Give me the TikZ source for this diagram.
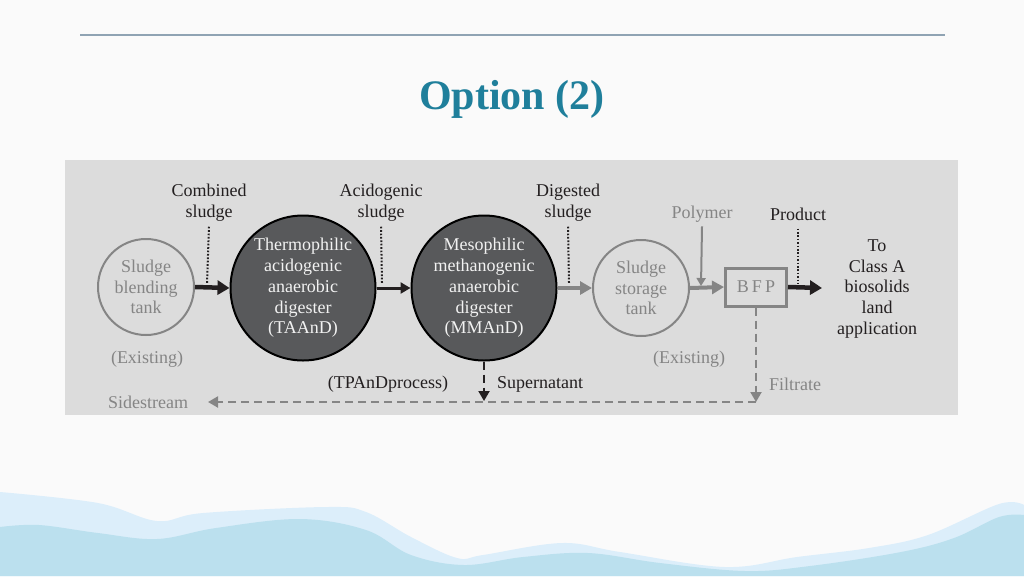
\documentclass[tikz,border=0pt]{standalone}
\usepackage{fontspec}
\setmainfont{Liberation Serif}
\usepackage{tikz}
\usetikzlibrary{arrows.meta,positioning}
\definecolor{slidebg}{HTML}{FAFAFA}
\definecolor{panelbg}{HTML}{DCDCDC}
\definecolor{titleblue}{HTML}{1F7F9B}
\definecolor{ruleblue}{HTML}{8FA3B3}
\definecolor{darkfill}{HTML}{58595B}
\definecolor{inkdark}{HTML}{231F20}
\definecolor{inkgray}{HTML}{858585}
\definecolor{wavelight}{HTML}{DCEEFA}
\definecolor{wavedark}{HTML}{BBE0EE}

\begin{document}
\begin{tikzpicture}[x=1pt,y=-1pt,
		txt/.style={font=\fontsize{18}{20.7}\selectfont, align=center, inner sep=0pt, text=inkdark},
		graytxt/.style={txt, text=inkgray},
		tank/.style={graytxt, circle, draw=inkgray, line width=2pt, minimum size=96pt, inner sep=0pt},
		digester/.style={txt, text=white!95!black, circle, draw=black, fill=darkfill, line width=2pt, minimum size=145pt, inner sep=0pt},
		blackarrow/.style={line width=4.5pt, color=inkdark, -{Triangle[length=12pt,width=14pt]}},
		midarrow/.style={line width=3pt, color=inkdark, -{Triangle[length=10pt,width=11pt]}},
		grayarrow/.style={line width=4pt, color=inkgray, -{Triangle[length=12pt,width=13pt]}},
		polyarrow/.style={line width=2pt, color=inkgray, -{Triangle[length=8pt,width=9pt]}},
		dotline/.style={line width=2pt, color=inkdark, dash pattern=on 1.7pt off 1.7pt},
		graydash/.style={line width=2pt, color=inkgray, dash pattern=on 8pt off 5pt},
		blackdash/.style={line width=2pt, color=inkdark, dash pattern=on 8pt off 5pt}]
	% slide background
	\fill[slidebg] (0,0) rectangle (1024,576);
	\fill[wavelight] plot[smooth, tension=0.6] coordinates {(0,492) (98,503) (157,521) (203,513) (327,507) (366,512) (411,537) (457,558) (483,555) (562,543) (620,552) (725,567) (797,557) (869,548) (928,535) (999,504) (1024,505)} -- (1024,576) -- (0,576) -- cycle;
	\fill[wavedark] plot[smooth, tension=0.6] coordinates {(0,527) (39,525) (98,533) (157,539) (216,528) (300,519) (366,530) (411,555) (464,565) (523,557) (588,553) (660,563) (745,571) (810,566) (901,552) (954,538) (999,517) (1024,515)} -- (1024,576) -- (0,576) -- cycle;
	\draw[ruleblue, line width=1.5pt] (80,35) -- (945,35);
	\node[font=\fontsize{42}{48}\bfseries, text=titleblue] (title) at (512,99) {Option (2)};

	% diagram panel
	\fill[panelbg] (65,160) rectangle (958,415);

	\node[tank] (blend) at (146,287) {Sludge\\blending\\tank};
	\node[digester] (taand) at (303,288) {Thermophilic\\acidogenic\\anaerobic\\digester\\(TAAnD)};
	\node[digester] (mmand) at (484,288) {Mesophilic\\methanogenic\\anaerobic\\digester\\(MMAnD)};
	\node[tank] (store) at (641,288) {Sludge\\storage\\tank};
	\node[graytxt, rectangle, draw=inkgray, line width=3pt, minimum width=61pt, minimum height=38pt] (bfp) at (756,287) {B\,F\,P};
	\node[txt] (dest) at (877,289) {To\\Class A\\biosolids\\land\\application};

	\node[txt] (comb) at (209,203) {Combined\\sludge};
	\node[txt] (acid) at (381,203) {Acidogenic\\sludge};
	\node[txt] (digs) at (568,203) {Digested\\sludge};
	\node[graytxt] (poly) at (702,214) {Polymer};
	\node[txt] (prod) at (798,214) {Product};

	\node[graytxt] (exist1) at (147,359) {(Existing)};
	\node[graytxt] (exist2) at (689,359) {(Existing)};
	\node[txt] (tpand) at (388,384) {(TPAnDprocess)};
	\node[txt, anchor=west] (super) at (497,384) {Supernatant};
	\node[graytxt, anchor=west] (filt) at (769,384) {Filtrate};
	\node[graytxt] (side) at (148,402) {Sidestream};

	\coordinate (combend) at (207,283);
	\coordinate (acidend) at (382,283);
	\coordinate (digsend) at (569,283);
	\coordinate (polyend) at (701,286);
	\coordinate (prodend) at (798,283);
	\coordinate (desttip) at (822,288);
	\coordinate (superend) at (484,401);
	\coordinate (filtcorner) at (756,402);
	\coordinate (sidetip) at (208,402);

	% main flow
	\draw[blackarrow] (blend.east) -- (taand.west);
	\draw[midarrow] (taand.east) -- (mmand.west);
	\draw[grayarrow] (mmand.east) -- (store.west);
	\draw[grayarrow] (store.east) -- (bfp.west);
	\draw[blackarrow] (bfp.east) -- (desttip);
	\draw[polyarrow] ([yshift=-4pt]poly.south) -- (polyend);

	% stream labels
	\draw[dotline] ([yshift=-5pt]comb.south) -- (combend);
	\draw[dotline] ([yshift=-5pt]acid.south) -- (acidend);
	\draw[dotline] ([yshift=-5pt]digs.south) -- (digsend);
	\draw[dotline] ([yshift=-8pt]prod.south) -- (prodend);

	% return streams
	\draw[blackdash, -{Triangle[length=10pt,width=11pt]}] (mmand.south) -- (superend);
	\draw[graydash, -{Triangle[length=10pt,width=11pt]}] (bfp.south) -- (filtcorner);
	\draw[graydash, -{Triangle[length=10pt,width=11pt]}] (filtcorner) -- (sidetip);
\end{tikzpicture}
\end{document}
